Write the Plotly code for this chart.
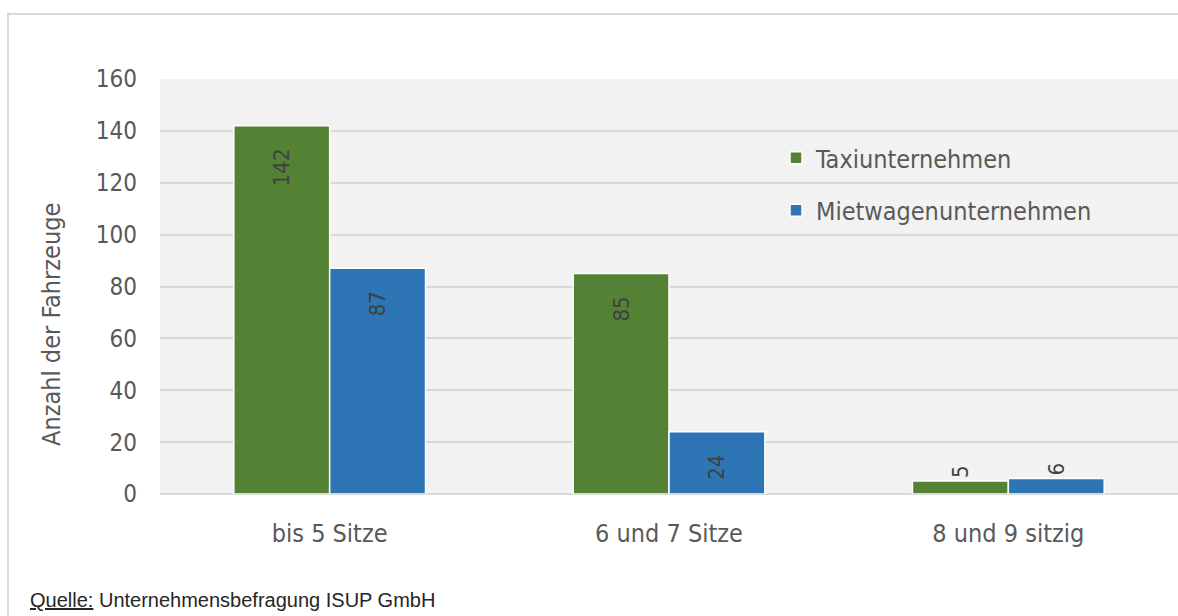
import plotly.graph_objects as go

# Fahrzeuggrößen und Anzahl der Fahrzeuge je Unternehmensart
categories = ["bis 5 Sitze", "6 und 7 Sitze", "8 und 9 sitzig"]
taxi = [142, 85, 5]
mietwagen = [87, 24, 6]
y_ticks = [0, 20, 40, 60, 80, 100, 120, 140, 160]

FONT = "DejaVu Sans Condensed, Liberation Sans Narrow, sans-serif"
TEXT = "#595959"
GRID = "#d9d9d9"

W, H = 1178, 616
ML, MT, MB = 160, 79, 122
plot_w = W - ML
plot_h = H - MT - MB


def px_x(px):
    return (px - ML) / plot_w


def px_y(px):
    return (H - MB - px) / plot_h


def label_positions(vals):
    return ["inside" if v >= 15 else "outside" for v in vals]


def label_texts(vals):
    # en spaces after inside labels keep them off the bar's top edge
    return [f"{v}\u2002\u2002" if v >= 15 else str(v) for v in vals]


fig = go.Figure()
for i, (name, vals, color) in enumerate([("Taxiunternehmen", taxi, "#548235"),
                                         ("Mietwagenunternehmen", mietwagen, "#2e75b6")]):
    fig.add_trace(go.Bar(
        name=name, x=categories, y=vals, legendgroup=f"g{i}",
        marker=dict(color=color, line=dict(color="white", width=1.5)),
        text=label_texts(vals),
        textposition=label_positions(vals),
        insidetextanchor="end",
        textangle=-90,
        textfont=dict(family=FONT, size=22, color="#404040"),
        cliponaxis=False,
    ))

fig.update_layout(
    width=W, height=H,
    margin=dict(l=ML, r=0, t=MT, b=MB),
    paper_bgcolor="white",
    plot_bgcolor="#f2f2f2",
    barmode="group",
    bargap=0.435,
    bargroupgap=0.0,
    font=dict(family=FONT, color=TEXT),
    showlegend=True,
    legend=dict(
        x=px_x(776), y=px_y(135),
        xanchor="left", yanchor="top",
        bgcolor="rgba(0,0,0,0)",
        traceorder="grouped",
        font=dict(family=FONT, size=25, color=TEXT),
        tracegroupgap=17, itemwidth=30,
    ),
    xaxis=dict(
        showgrid=False, showline=False, ticks="",
        tickfont=dict(family=FONT, size=25, color=TEXT),
        ticklabelstandoff=22,
    ),
    yaxis=dict(
        range=[0, 160], tickvals=y_ticks,
        showgrid=True, gridcolor=GRID, gridwidth=2,
        zeroline=True, zerolinecolor=GRID, zerolinewidth=2,
        showline=False, ticks="",
        tickfont=dict(family=FONT, size=24, color=TEXT),
        ticklabelstandoff=22,
    ),
    shapes=[dict(
        type="rect", xref="paper", yref="paper",
        x0=px_x(8), x1=1.2,
        y0=-0.6, y1=px_y(14),
        line=dict(color=GRID, width=2), fillcolor="rgba(0,0,0,0)",
        layer="below",
    )],
    annotations=[
        dict(
            text="Anzahl der Fahrzeuge",
            xref="paper", yref="paper",
            x=px_x(51), y=px_y(325),
            xanchor="center", yanchor="middle", textangle=-90,
            showarrow=False,
            font=dict(family=FONT, size=25, color=TEXT),
        ),
        dict(
            text="<u>Quelle:</u> Unternehmensbefragung ISUP GmbH",
            xref="paper", yref="paper",
            x=px_x(28), y=px_y(600),
            xanchor="left", yanchor="middle", showarrow=False,
            font=dict(family="Liberation Sans Narrow, Arial Narrow, sans-serif",
                      size=20, color="#262626"),
        ),
    ],
)

fig.write_html("out.html")
